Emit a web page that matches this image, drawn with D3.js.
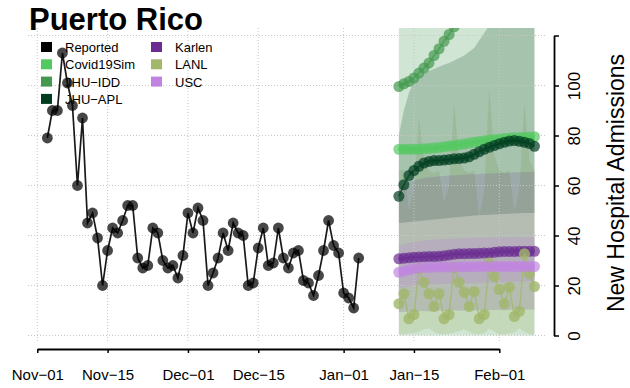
<!DOCTYPE html>
<html>
<head>
<meta charset="utf-8">
<script src="https://cdn.jsdelivr.net/npm/d3@7"></script>
<style>
  body { margin: 0; background: #fff; }
  svg { font-family: "Liberation Sans", Arial, sans-serif; }
</style>
</head>
<body>
<div id="chart"></div>
<script>
// reported daily admissions, starting 2020-11-03
const reportedStart = "2020-11-03"
const reported = [79, 90, 90, 113, 101, 92, 60, 87, 45, 49, 39, 20, 34, 43, 41, 46, 52, 52, 31, 27,
  28, 43, 41, 30, 27, 28, 23, 32, 49, 41, 51, 46, 20, 25, 31, 41, 34, 45, 41, 40,
  20, 21, 35, 43, 28, 29, 43, 31, 27, 33, 34, 22, 21, 16, 24, 34, 46, 36, 33, 17,
  15, 11, 31]

// forecasts, daily from 2021-01-12
const forecastStart = "2021-01-12"
const models = ["Covid19Sim", "JHU−IDD", "JHU−APL", "Karlen", "LANL", "USC"]
const modelColors = ["#52c95f", "#43994f", "#003d1f", "#6a2c91", "#a1b76a", "#c084e0"]

const covid19sim = [74.5, 74.5, 74.5, 74.5, 74.5, 74.7, 74.8, 75, 75.2, 75.5, 75.8, 76, 76.3, 76.6,
  77, 77.3, 77.6, 77.9, 78.2, 78.4, 78.6, 78.8, 79, 79.1, 79.2, 79.3, 79.4, 79.5]
const jhuIdd = [99.6, 100.7, 101.6, 103, 105, 107, 109, 112, 114.7, 117.7, 120.4, 123.5, 127, 130.5,
  134, 138, 142, 146, 150, 155, 160, 165, 170, 175, 180, 186, 192, 198]
const jhuApl = [55.7, 60.3, 64, 66, 67.7, 69, 69.6, 70, 70, 70.2, 70.4, 70.7, 70.8, 71,
  71.5, 72.5, 73.5, 74.5, 75.3, 76, 76.7, 77.3, 77.8, 78, 77.7, 77.3, 76.8, 75.7]
const karlen = [30.7, 30.9, 31.1, 31.3, 31.4, 31.5, 31.6, 31.6, 31.7, 31.9, 32.2, 32.5, 32.7, 32.7,
  32.8, 32.8, 32.9, 33, 33, 33.3, 33.5, 33.6, 33.6, 33.6, 33.7, 33.7, 33.7, 33.7]
const lanl = [12.7, 16.7, 6.7, 8.4, 26.7, 21.3, 16.7, 11.6, 16.7, 6.7, 8.4, 27.3, 21.3, 17.3,
  11.6, 17.6, 6.7, 8.4, 29, 23.6, 18.4, 12.7, 19.3, 7.6, 9.7, 32.7, 24.7, 19.6]
const usc = [25.3, 25.8, 26.3, 26.7, 27, 27.2, 27.3, 27.3, 27.4, 27.4, 27.4, 27.5, 27.5, 27.5,
  27.5, 27.5, 27.6, 27.6, 27.6, 27.6, 27.6, 27.6, 27.6, 27.6, 27.6, 27.6, 27.6, 27.6]

// prediction intervals
const jhuIddLo = [0, 0, 0, 0, 0, 0, 0, 0, 0, 0, 0, 0, 0, 0, 0, 0, 0, 0, 0, 0, 0, 0, 0, 0, 0, 0, 0, 0]
const jhuIddHi = [240, 244, 248, 252, 256, 260, 264, 268, 272, 276, 280, 284, 288, 292,
  296, 300, 304, 308, 312, 316, 320, 324, 328, 332, 336, 340, 344, 348]
const lanlLo = [0.5, 0.5, 0.8, 1, 1.5, 2.5, 2.8, 1.5, 0.5, 0.6, 0.8, 1.2, 1.8, 2.5,
  1.5, 0.5, 0.6, 1, 2.8, 1.5, 0.5, 0.5, 0.8, 1.2, 2.8, 1.5, 0.5, 0.5]
const lanlHi = [66, 66, 50, 58, 87, 70, 66, 65, 66, 53, 60, 93, 70, 66,
  65, 66, 47, 58, 99, 72, 66, 65, 66, 50, 58, 93, 70, 66]
const jhuAplLo = [45, 45.2, 45.4, 45.6, 45.8, 46, 46.2, 46.4, 46.6, 46.8, 47, 47.2, 47.4, 47.6,
  47.8, 48, 48.1, 48.2, 48.3, 48.4, 48.5, 48.6, 48.7, 48.8, 48.9, 49, 49, 49]
const jhuAplHi = [80, 90, 97, 101.5, 103.5, 104.8, 105.8, 106.6, 107.5, 108.3, 109, 110, 111, 112,
  113.5, 115, 118, 121, 124, 127, 130, 133, 136, 139, 142, 145, 148, 151]
const karlenLo = [9.3, 9.5, 9.6, 9.4, 9.7, 9.8, 9.6, 9.9, 10, 9.8, 10, 10.1, 9.9, 10,
  10.2, 10, 10.1, 10.3, 10.1, 10.2, 10.3, 10.1, 10.2, 10.4, 10.2, 10.3, 10.4, 10.3]
const karlenHi = [59, 60.5, 61.5, 62, 62.5, 63, 63.2, 63.4, 63.6, 63.8, 64, 64, 64.2, 64.3,
  64.4, 64.5, 64.6, 64.7, 64.8, 64.9, 65, 65, 65.1, 65.2, 65.3, 65.3, 65.4, 65.5]
const uscLo = [19, 19.3, 19.6, 19.8, 20, 20.2, 20.3, 20.4, 20.5, 20.6, 20.7, 20.8, 20.9, 21,
  21, 21.1, 21.2, 21.2, 21.3, 21.3, 21.4, 21.4, 21.5, 21.5, 21.6, 21.6, 21.7, 21.7]
const uscHi = [36, 36.5, 37, 37.4, 37.7, 38, 38.2, 38.4, 38.5, 38.6, 38.7, 38.8, 38.9, 39,
  39, 39.1, 39.1, 39.2, 39.2, 39.2, 39.3, 39.3, 39.3, 39.3, 39.3, 39.3, 39.3, 39.3]

const xTicks = ["2020-11-01", "2020-11-15", "2020-12-01", "2020-12-15", "2021-01-01", "2021-01-15", "2021-02-01"]
const yTicks = [0, 20, 40, 60, 80, 100, 120]
const yLabels = ["0", "20", "40", "60", "80", "100", ""]

const parse = d3.utcParse("%Y-%m-%d")
const dayAfter = (start, i) => d3.utcDay.offset(parse(start), i)

const W = 630, H = 388
const x = d3.scaleUtc().domain([parse("2020-11-01"), parse("2021-02-01")]).range([37.3, 499.3])
const y = d3.scaleLinear().domain([0, 120]).range([335.5, 35.5])

const svg = d3.select("#chart").append("svg").attr("width", W).attr("height", H)

svg.append("defs").append("clipPath").attr("id", "plot")
  .append("rect").attr("x", 28).attr("y", 28).attr("width", 517).attr("height", 315)

// bands
const bands = [
  {lo: jhuIddLo, hi: jhuIddHi, c: modelColors[1], a: 0.25},
  {lo: lanlLo, hi: lanlHi, c: modelColors[4], a: 0.25},
  {lo: jhuAplLo, hi: jhuAplHi, c: modelColors[2], a: 0.2},
  {lo: karlenLo, hi: karlenHi, c: modelColors[3], a: 0.16},
  {lo: uscLo, hi: uscHi, c: modelColors[5], a: 0.25}
]
const area = d3.area()
  .x((d, i) => x(dayAfter(forecastStart, i)))
  .y0(d => y(d[0])).y1(d => y(d[1]))

svg.append("g").attr("clip-path", "url(#plot)")
  .selectAll("path").data(bands).join("path")
  .attr("d", b => area(b.lo.map((v, i) => [v, b.hi[i]])))
  .attr("fill", b => b.c).attr("fill-opacity", b => b.a)

// grid
const grid = svg.append("g").attr("stroke", "#c8c8c8").attr("stroke-dasharray", "1,2")
grid.selectAll(".gy").data(yTicks).join("line")
  .attr("x1", 28).attr("x2", 545).attr("y1", d => y(d)).attr("y2", d => y(d))
grid.selectAll(".gx").data(xTicks).join("line")
  .attr("x1", d => x(parse(d))).attr("x2", d => x(parse(d))).attr("y1", 28).attr("y2", 343)

// title
svg.append("text").attr("x", 29).attr("y", 30)
  .attr("font-size", 31).attr("font-weight", "bold").text("Puerto Rico")

// legend
const legendItems = [{name: "Reported", c: "#000"}].concat(models.map((m, i) => ({name: m, c: modelColors[i]})))
const lg = svg.append("g").selectAll("g").data(legendItems).join("g")
  .attr("transform", (d, i) => `translate(${i < 4 ? 41 : 151},${42 + (i % 4) * 17.3})`)
lg.append("rect").attr("width", 11).attr("height", 10).attr("fill", d => d.c)
lg.append("text").attr("x", 24).attr("y", 10).attr("font-size", 13).text(d => d.name)

// forecasts
const series = [covid19sim, jhuIdd, jhuApl, karlen, lanl, usc]
const line = d3.line().x(d => x(d.date)).y(d => y(d.v))
const fc = svg.append("g").attr("clip-path", "url(#plot)")
series.forEach((s, k) => {
  const pts = s.map((v, i) => ({date: dayAfter(forecastStart, i), v}))
  const g = fc.append("g")
  g.append("path").datum(pts).attr("d", line)
    .attr("fill", "none").attr("stroke", modelColors[k]).attr("stroke-width", 1.5).attr("stroke-opacity", 0.7)
  g.selectAll("circle").data(pts).join("circle")
    .attr("cx", d => x(d.date)).attr("cy", d => y(d.v)).attr("r", 5.5)
    .attr("fill", modelColors[k]).attr("fill-opacity", k === 4 ? 0.8 : 0.7)
})

// reported
const rep = reported.map((v, i) => ({date: dayAfter(reportedStart, i), v}))
svg.append("path").datum(rep).attr("d", line)
  .attr("fill", "none").attr("stroke", "#1a1a1a").attr("stroke-width", 1.7)
svg.append("g").selectAll("circle").data(rep).join("circle")
  .attr("cx", d => x(d.date)).attr("cy", d => y(d.v)).attr("r", 5.4)
  .attr("fill", "#000").attr("fill-opacity", 0.72)

// x axis
const minus = s => s.replace("-", "\u2212")
const xAxis = svg.append("g").attr("transform", "translate(0,349)")
  .call(d3.axisBottom(x).tickValues(xTicks.map(parse)).tickSize(4).tickSizeOuter(0)
    .tickFormat(d => minus(d3.utcFormat("%b-%d")(d))))
xAxis.select(".domain").attr("stroke-width", 1.8)
xAxis.selectAll(".tick line").attr("stroke-width", 1.5)
xAxis.selectAll("text").attr("font-size", 15).attr("fill", "#000").attr("y", 20).attr("dy", "0.71em")

// y axis on the right
const yAxis = svg.append("g").attr("transform", "translate(554,0)")
  .call(d3.axisRight(y).tickValues(yTicks).tickSize(5).tickSizeOuter(0)
    .tickFormat((d, i) => yLabels[i]))
yAxis.select(".domain").attr("stroke-width", 1.8)
yAxis.selectAll(".tick line").attr("stroke-width", 1.5)
yAxis.selectAll("text").attr("font-size", 17).attr("fill", "#000")
  .attr("x", null).attr("dy", null).attr("text-anchor", "middle")
  .attr("transform", "translate(26,0) rotate(-90)")

svg.append("text").attr("transform", "translate(624,183) rotate(-90)")
  .attr("text-anchor", "middle").attr("font-size", 23).text("New Hospital Admissions")
</script>
</body>
</html>
